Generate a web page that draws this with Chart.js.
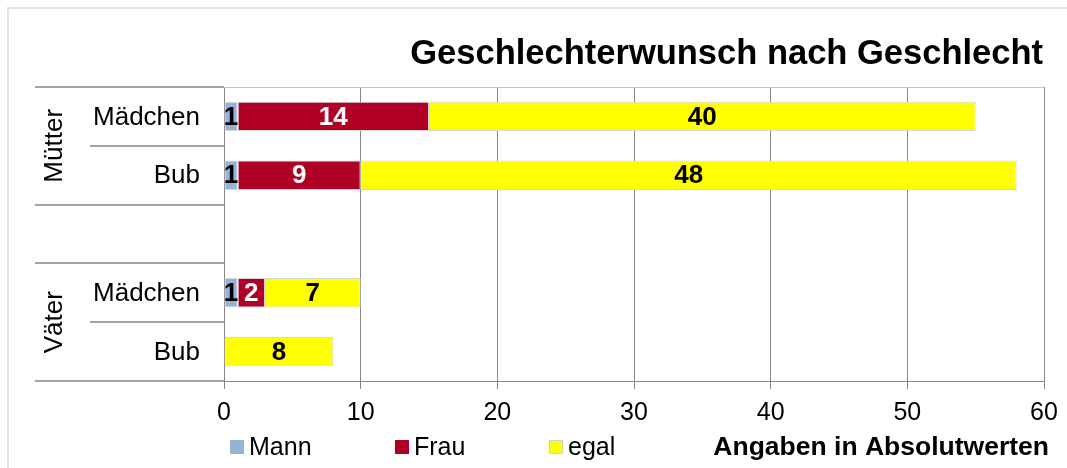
<!DOCTYPE html>
<html>
<head>
<meta charset="utf-8">
<script src="https://cdn.jsdelivr.net/npm/chart.js@4"></script>
<style>
  html, body { margin: 0; padding: 0; background: #fff; }
  #wrap { position: relative; width: 1067px; height: 468px; }
</style>
</head>
<body>
<div id="wrap"><canvas id="chart" width="1067" height="468"></canvas></div>
<script>
// Data
const categories = ['Mädchen', 'Bub', '', 'Mädchen', 'Bub'];
const groupNames = ['Mütter', 'Väter'];
const groupRows = [[0, 1], [3, 4]];
const seriesNames = ['Mann', 'Frau', 'egal'];
const mann = [1, 1, null, 1, 0];
const frau = [14, 9, null, 2, 0];
const egal = [40, 48, null, 7, 8];
const xTicks = [0, 10, 20, 30, 40, 50, 60];
const chartTitle = 'Geschlechterwunsch nach Geschlecht';
const noteText = 'Angaben in Absolutwerten';

const FONT = "'Liberation Sans', Arial, sans-serif";
const GRID = '#868686';

Chart.defaults.font.family = FONT;
Chart.defaults.color = '#000';

// title, grouped y labels, legend and note
const decor = {
    id: 'decor',
    beforeDraw(chart) {
        const c = chart.ctx;
        c.save();
        c.fillStyle = '#fff';
        c.fillRect(0, 0, chart.width, chart.height);
        c.strokeStyle = '#e2e2e2';
        c.lineWidth = 2;
        c.beginPath();
        c.moveTo(8, chart.height);
        c.lineTo(8, 8);
        c.lineTo(chart.width, 8);
        c.stroke();
        c.restore();
    },
    afterDatasetsDraw(chart) {
        const c = chart.ctx;
        c.save();
        c.font = 'bold 26px ' + FONT;
        c.textAlign = 'center';
        c.textBaseline = 'middle';
        chart.data.datasets.forEach((ds, di) => {
            chart.getDatasetMeta(di).data.forEach((bar, i) => {
                const v = ds.data[i];
                if (!v) return;
                c.fillStyle = ds.labelColor;
                c.fillText(String(v), (bar.x + bar.base) / 2, bar.y + 1);
            });
        });
        c.restore();
    },
    afterDraw(chart) {
        const c = chart.ctx;
        const a = chart.chartArea;
        const y = chart.scales.y;
        c.save();

        // plot top border
        c.strokeStyle = '#c4c4c4';
        c.lineWidth = 1;
        c.beginPath();
        c.moveTo(a.left, a.top + 0.5);
        c.lineTo(a.right, a.top + 0.5);
        c.stroke();

        // separators of the category table
        c.strokeStyle = GRID;
        c.lineWidth = 1.5;
        const longLines = [-0.5, 1.5, 2.5, 4.5];
        const shortLines = [0.5, 3.5];
        longLines.forEach(v => {
            const py = Math.round(y.getPixelForValue(v));
            c.beginPath(); c.moveTo(35, py); c.lineTo(a.left, py); c.stroke();
        });
        shortLines.forEach(v => {
            const py = Math.round(y.getPixelForValue(v));
            c.beginPath(); c.moveTo(90, py); c.lineTo(a.left, py); c.stroke();
        });

        // category labels
        c.fillStyle = '#000';
        c.font = '26px ' + FONT;
        c.textAlign = 'right';
        c.textBaseline = 'middle';
        categories.forEach((lab, i) => {
            if (lab) c.fillText(lab, 200, y.getPixelForValue(i) + 1);
        });

        // group labels, rotated
        c.textAlign = 'center';
        c.textBaseline = 'alphabetic';
        groupNames.forEach((g, gi) => {
            const [r0, r1] = groupRows[gi];
            const mid = (y.getPixelForValue(r0) + y.getPixelForValue(r1)) / 2;
            c.save();
            c.translate(62, mid);
            c.rotate(-Math.PI / 2);
            c.fillText(g, 0, 0);
            c.restore();
        });

        // title
        c.font = 'bold 34.5px ' + FONT;
        c.textAlign = 'right';
        c.fillText(chartTitle, 1043, 64);

        // legend
        const boxX = [230, 395, 549];
        c.font = '25px ' + FONT;
        c.textAlign = 'left';
        chart.data.datasets.forEach((ds, di) => {
            c.fillStyle = ds.backgroundColor;
            c.fillRect(boxX[di], 440, 14, 14);
            if (di === 2) {
                c.strokeStyle = '#d0d0d0';
                c.lineWidth = 1;
                c.strokeRect(boxX[di] + 0.5, 440.5, 13, 13);
            }
            c.fillStyle = '#000';
            c.fillText(ds.label, boxX[di] + 19, 455);
        });

        // note
        c.font = 'bold 26.5px ' + FONT;
        c.textAlign = 'right';
        c.fillText(noteText, 1049, 455);
        c.restore();
    }
};

new Chart(document.getElementById('chart'), {
    type: 'bar',
    data: {
        labels: categories,
        datasets: [
            { label: seriesNames[0], data: mann, backgroundColor: '#95b3d7', labelColor: '#000' },
            { label: seriesNames[1], data: frau, backgroundColor: '#b10026', labelColor: '#fff' },
            { label: seriesNames[2], data: egal, backgroundColor: '#ffff00', labelColor: '#000' }
        ].map(d => Object.assign(d, {
            borderColor: '#d6d6d6',
            borderWidth: 1,
            borderSkipped: false,
            barPercentage: 0.5,
            categoryPercentage: 1
        }))
    },
    plugins: [decor],
    options: {
        indexAxis: 'y',
        responsive: false,
        animation: false,
        layout: { padding: { top: 87, left: 224, right: 23, bottom: 0 } },
        plugins: {
            legend: { display: false },
            title: { display: false },
            tooltip: { enabled: false }
        },
        scales: {
            y: { display: false, stacked: true },
            x: {
                stacked: true,
                min: 0,
                max: 60,
                afterBuildTicks: s => { s.ticks = xTicks.map(v => ({ value: v })); },
                afterFit: s => { s.height = 87; },
                grid: { color: GRID, tickLength: 8, drawTicks: true },
                border: { color: GRID },
                ticks: { color: '#000', font: { size: 25 }, padding: 9, maxRotation: 0 }
            }
        }
    }
});
</script>
</body>
</html>
